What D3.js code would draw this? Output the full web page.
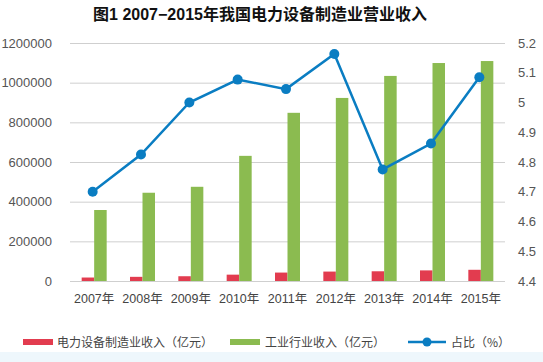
<!DOCTYPE html>
<html>
<head>
<meta charset="utf-8">
<script src="https://cdn.jsdelivr.net/npm/d3@7"></script>
<style>
  body { margin: 0; background: #fff; }
  text { font-family: "Liberation Sans", "Noto Sans CJK SC", sans-serif; }
  .cjk { font-family: "Noto Sans CJK SC", sans-serif; }
</style>
</head>
<body>
<div id="chart"></div>
<script>
const YEARS = ['2007年', '2008年', '2009年', '2010年', '2011年', '2012年', '2013年', '2014年', '2015年']
const POWER = [17500, 21000, 24000, 32000, 42500, 47500, 49000, 53500, 56500]
const INDUSTRY = [358000, 445000, 475000, 631000, 848000, 923000, 1034000, 1099000, 1109000]
const SHARE = [4.70, 4.825, 5.0, 5.077, 5.045, 5.163, 4.775, 4.862, 5.085]
const LEFT_TICKS = [0, 200000, 400000, 600000, 800000, 1000000, 1200000]
const RIGHT_TICKS = [4.4, 4.5, 4.6, 4.7, 4.8, 4.9, 5, 5.1, 5.2]

const W = 543, H = 362
const M = { top: 43, right: 38, bottom: 81, left: 70 }

const svg = d3.select('#chart').append('svg')
  .attr('width', W).attr('height', H)

// light band at the bottom
svg.append('rect')
  .attr('x', 0).attr('y', 352).attr('width', W).attr('height', H - 352)
  .attr('fill', '#eef7fc')

svg.append('text')
  .attr('x', 260).attr('y', 19.5)
  .attr('text-anchor', 'middle')
  .attr('font-size', 16).attr('font-weight', 'bold')
  .attr('fill', '#111')
  .text('图1 2007−2015年我国电力设备制造业营业收入')

const x = d3.scaleBand().domain(YEARS).range([M.left, W - M.right])
const y = d3.scaleLinear().domain([0, 1200000]).range([H - M.bottom, M.top])
const y2 = d3.scaleLinear().domain([4.4, 5.2]).range([H - M.bottom, M.top])

// gridlines
svg.append('g')
  .selectAll('line').data(LEFT_TICKS).join('line')
    .attr('x1', M.left).attr('x2', W - M.right)
    .attr('y1', d => y(d) + 0.5).attr('y2', d => y(d) + 0.5)
    .attr('stroke', '#cfcfcf')

// left axis
const yAxis = svg.append('g')
  .attr('transform', 'translate(' + (M.left - 15) + ',0)')
  .call(d3.axisLeft(y).tickValues(LEFT_TICKS).tickSize(0).tickFormat(d3.format('d')))
yAxis.select('.domain').remove()
yAxis.selectAll('text').attr('font-size', 13).attr('fill', '#555')

// right axis
const y2Axis = svg.append('g')
  .attr('transform', 'translate(' + (W - M.right + 10) + ',0)')
  .call(d3.axisRight(y2).tickValues(RIGHT_TICKS).tickSize(0).tickFormat(d => d3.format('')(+d.toFixed(1))))
y2Axis.select('.domain').remove()
y2Axis.selectAll('text').attr('font-size', 13).attr('fill', '#555')

// x axis labels
const xAxis = svg.append('g')
  .attr('transform', 'translate(0,' + (H - M.bottom + 10) + ')')
  .call(d3.axisBottom(x).tickSize(0))
xAxis.select('.domain').remove()
xAxis.selectAll('text').attr('font-size', 12.5).attr('fill', '#444')

const BW = 12.5
const mid = (d) => x(d) + x.bandwidth() / 2

svg.append('g').selectAll('rect').data(YEARS).join('rect')
  .attr('x', (d) => mid(d) - BW)
  .attr('y', (d, i) => y(POWER[i]))
  .attr('width', BW)
  .attr('height', (d, i) => y(0) - y(POWER[i]))
  .attr('fill', '#e23c4f')

svg.append('g').selectAll('rect').data(YEARS).join('rect')
  .attr('x', (d) => mid(d))
  .attr('y', (d, i) => y(INDUSTRY[i]))
  .attr('width', BW)
  .attr('height', (d, i) => y(0) - y(INDUSTRY[i]))
  .attr('fill', '#8bbb50')

const line = d3.line()
  .x((d, i) => mid(YEARS[i]) - 1.5)
  .y((d) => y2(d))

svg.append('path')
  .datum(SHARE)
  .attr('d', line)
  .attr('fill', 'none')
  .attr('stroke', '#0a7dc2')
  .attr('stroke-width', 2.5)

svg.append('g').selectAll('circle').data(SHARE).join('circle')
  .attr('cx', (d, i) => mid(YEARS[i]) - 1.5)
  .attr('cy', (d) => y2(d))
  .attr('r', 5)
  .attr('fill', '#0a7dc2')

// legend
const lg = svg.append('g').attr('class', 'legend')
lg.append('rect').attr('x', 23).attr('y', 339).attr('width', 30).attr('height', 6).attr('fill', '#e23c4f')
lg.append('text').attr('class', 'cjk').attr('x', 57).attr('y', 346.5).attr('font-size', 12).attr('fill', '#444')
  .text('电力设备制造业收入（亿元）')
lg.append('rect').attr('x', 230).attr('y', 339).attr('width', 30).attr('height', 6).attr('fill', '#8bbb50')
lg.append('text').attr('class', 'cjk').attr('x', 265).attr('y', 346.5).attr('font-size', 12).attr('fill', '#444')
  .text('工业行业收入（亿元）')
lg.append('line').attr('x1', 408).attr('x2', 446).attr('y1', 342).attr('y2', 342)
  .attr('stroke', '#0a7dc2').attr('stroke-width', 2.5)
lg.append('circle').attr('cx', 427).attr('cy', 342).attr('r', 4.5).attr('fill', '#0a7dc2')
lg.append('text').attr('class', 'cjk').attr('x', 451).attr('y', 346.5).attr('font-size', 12).attr('fill', '#444')
  .text('占比（%）')
</script>
</body>
</html>
